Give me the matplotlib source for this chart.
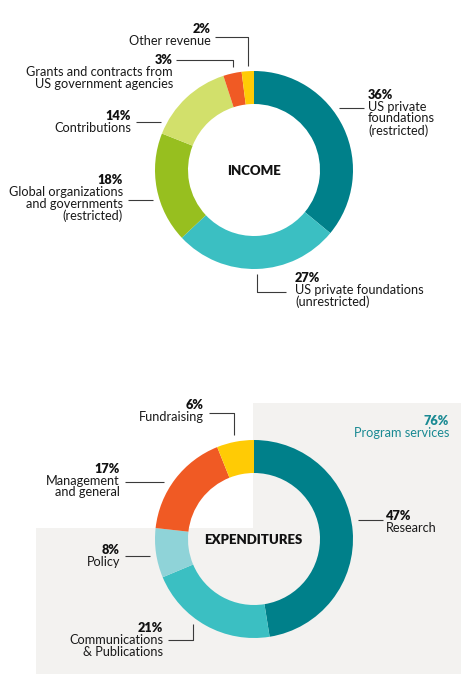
import matplotlib
matplotlib.use("Agg")
import matplotlib.pyplot as plt
from matplotlib.patches import Polygon

# ---------------- data ----------------
income_labels = ["US private\nfoundations\n(restricted)",
                 "US private foundations\n(unrestricted)",
                 "Global organizations\nand governments\n(restricted)",
                 "Contributions",
                 "Grants and contracts from\nUS government agencies",
                 "Other revenue"]
income_values = [36, 27, 18, 14, 3, 2]
income_colors = ["#00808a", "#3bbfc2", "#97bf1f", "#d2e06b", "#f05a24", "#ffcb05"]

exp_labels = ["Research", "Communications\n& Publications", "Policy",
              "Management\nand general", "Fundraising"]
exp_values = [47, 21, 8, 17, 6]
exp_colors = ["#00808a", "#3bbfc2", "#8fd3d8", "#f05a24", "#ffcb05"]

program_share = 76
program_label = "Program services"

# ---------------- figure ----------------
W, H = 474, 689
fig = plt.figure(figsize=(W / 100, H / 100), dpi=100)
ax = fig.add_axes([0, 0, 1, 1])

def Y(py):
    return H - py

FONT = ["Lato", "DejaVu Sans"]
FS = 9.2
LS = 0.95

# gray background for program services
bg = Polygon([(253, Y(403)), (461, Y(403)), (461, Y(674)), (36, Y(674)),
              (36, Y(528)), (253, Y(528))], closed=True,
             facecolor="#f3f2f0", edgecolor="none", zorder=0)
ax.add_patch(bg)

R, WID = 99, 33
ax.pie(income_values, colors=income_colors, startangle=90, counterclock=False,
       center=(254, Y(170)), radius=R,
       wedgeprops=dict(width=WID, edgecolor="none", linewidth=0), frame=True)
ax.pie(exp_values, colors=exp_colors, startangle=90, counterclock=False,
       center=(254, Y(539)), radius=R,
       wedgeprops=dict(width=WID, edgecolor="none", linewidth=0), frame=True)

ax.set_xlim(0, W)
ax.set_ylim(0, H)
ax.set_aspect("equal")
ax.axis("off")

def label(pct, text, x, y_pct, ha, color="#1a1a1a", pct_color="#111111"):
    ax.text(x, Y(y_pct), f"{pct}%", ha=ha, va="center", family=FONT,
            fontsize=FS, fontweight="heavy", color=pct_color)
    ax.text(x, Y(y_pct + 6), text, ha=ha, va="top", family=FONT,
            fontsize=FS, color=color, linespacing=LS)

def leader(points):
    xs = [p[0] for p in points]
    ys = [Y(p[1]) for p in points]
    ax.plot(xs, ys, color="#3a3a3a", lw=0.8, solid_capstyle="butt")

# income labels
label(income_values[0], income_labels[0], 368, 95, "left")
leader([(339, 108), (364, 108)])
label(income_values[1], income_labels[1], 295, 278, "left")
leader([(257, 274), (257, 292), (286, 292)])
label(income_values[2], income_labels[2], 123, 180, "right")
leader([(128, 200), (153, 200)])
label(income_values[3], income_labels[3], 131, 116, "right")
leader([(136, 122), (161, 122)])
label(income_values[4], income_labels[4], 173, 60, "right")
leader([(176, 60), (233, 60), (233, 67)])
label(income_values[5], income_labels[5], 211, 29, "right")
leader([(215, 37), (248, 37), (248, 66)])

ax.text(254, Y(171), "INCOME", ha="center", va="center", family=FONT,
        fontsize=9.5, fontweight="heavy", color="#111111")

# expenditures labels
label(exp_values[0], exp_labels[0], 386, 516, "left")
leader([(358, 520), (383, 520)])
label(exp_values[1], exp_labels[1], 163, 628, "right")
leader([(168, 640), (193, 640), (193, 624)])
label(exp_values[2], exp_labels[2], 120, 550, "right")
leader([(125, 556), (150, 556)])
label(exp_values[3], exp_labels[3], 120, 469, "right")
leader([(125, 482), (164, 482)])
label(exp_values[4], exp_labels[4], 204, 405, "right")
leader([(209, 413), (234, 413), (234, 435)])

label(program_share, program_label, 449, 421, "right",
      color="#1a8a93", pct_color="#1a8a93")

ax.text(253, Y(540), "EXPENDITURES", ha="center", va="center", family=FONT,
        fontsize=9.5, fontweight="heavy", color="#111111")

fig.savefig("out.png", dpi=100)
